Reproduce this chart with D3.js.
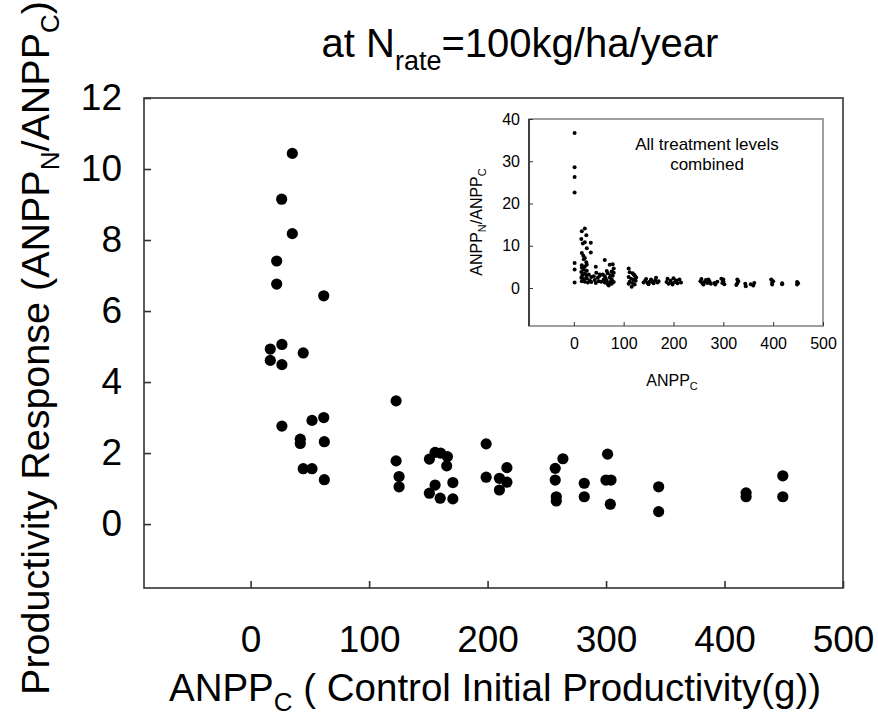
<!DOCTYPE html>
<html>
<head>
<meta charset="utf-8">
<script src="https://cdn.jsdelivr.net/npm/d3@7"></script>
<style>
  body { margin: 0; background: #fff; }
  text { font-family: "Liberation Sans", Arial, sans-serif; fill: #000; }
</style>
</head>
<body>
<svg id="chart"></svg>
<script>
// main panel: response at N rate = 100 kg/ha/year
var anppC = [35.2, 26.2, 35.2, 22.0, 22.0, 61.7, 16.6, 26.4, 16.6, 26.4, 44.4, 26.4, 51.8, 61.7, 41.9, 41.9, 62.2, 44.4, 51.8, 62.2,
             122.8, 122.8, 125.3, 125.3, 150.9, 155.7, 160.3, 166.1, 165.5, 155.7, 150.9, 160.0, 170.7, 170.7,
             198.8, 198.8, 210.0, 210.0, 216.3, 216.3, 257.1, 257.1, 263.6, 258.0, 258.0, 281.6, 281.6,
             301.3, 299.9, 304.2, 303.6, 344.4, 344.4, 418.2, 418.2, 449.2, 449.2];
var response = [10.44, 9.15, 8.18, 7.41, 6.76, 6.43, 4.93, 5.06, 4.61, 4.49, 4.82, 2.76, 2.92, 3.0, 2.39, 2.27, 2.32, 1.56, 1.56, 1.25,
                3.47, 1.78, 1.34, 1.05, 1.83, 2.02, 2.0, 1.9, 1.64, 1.1, 0.87, 0.73, 1.17, 0.71,
                2.26, 1.32, 1.29, 0.96, 1.59, 1.18, 1.57, 1.24, 1.84, 0.77, 0.65, 1.15, 0.77,
                1.97, 1.24, 1.24, 0.56, 1.05, 0.35, 0.88, 0.77, 1.36, 0.77];
var xTicks = [0, 100, 200, 300, 400, 500];
var yTicks = [0, 2, 4, 6, 8, 10, 12];

// inset: all treatment levels combined
var insetAnppC = [1.5, 1.5, 1.5, 1.5, 1.5, 1.5, 1.5,
                  22, 16, 25, 15, 22, 34, 18, 26, 34, 16, 19, 22, 20, 25, 16, 22, 26, 16, 20, 26, 15, 22, 17, 25, 15, 20, 26, 16, 22, 28, 32, 35, 35, 30,
                  44, 45, 40, 48, 42, 50, 44, 52, 55, 52,
                  62, 58, 62, 64, 66, 62, 68, 70, 72, 74, 76, 78, 72, 80, 76, 80, 70, 66, 74, 78, 68, 60, 80, 76,
                  110, 112, 118, 122, 110, 115, 120, 124, 112, 118, 122, 116, 110, 125, 120,
                  140, 143, 148, 152, 155, 158, 160, 163, 165, 168, 170, 150, 145,
                  186, 188, 190, 194, 196, 200, 203, 206, 208, 212, 215, 198,
                  254, 256, 258, 260, 262, 265, 268, 272, 275, 270,
                  282, 284, 288, 296, 298, 300, 302, 300,
                  328, 330, 328, 326, 344, 345, 355, 360, 362,
                  396, 398, 398, 400, 418, 418, 448, 448, 450];
var insetResponse = [36.7, 28.6, 26.3, 22.6, 5.9, 4.4, 1.3,
                     14.1, 13.4, 12.5, 11.6, 10.8, 10.7, 10.5, 9.4, 8.4, 8.3, 7.6, 7.1, 6.8, 6.1, 5.4, 5.1, 5.5, 4.8, 4.4, 4.1, 3.8, 3.5, 3.0, 2.9, 2.4, 2.1, 2.3, 1.6, 1.5, 1.3, 1.8, 2.6, 1.4, 3.2,
                     5.0, 3.6, 2.8, 2.4, 1.9, 1.6, 1.2, 2.9, 1.5, 3.2,
                     6.6, 3.2, 2.8, 2.2, 1.7, 1.3, 0.9, 1.1, 2.5, 3.0, 3.9, 5.6, 5.5, 4.6, 2.0, 1.4, 0.6, 4.0, 1.5, 2.9, 3.5, 2.0, 3.6, 1.0,
                     4.6, 3.7, 3.5, 3.0, 2.6, 2.2, 2.0, 1.7, 1.5, 1.2, 0.8, 0.3, 1.0, 2.5, 3.2,
                     1.3, 1.7, 1.2, 1.5, 2.0, 1.4, 1.1, 1.8, 2.4, 1.3, 1.6, 0.9, 2.1,
                     1.4, 2.2, 1.0, 1.7, 1.2, 2.3, 1.4, 1.8, 1.1, 2.0, 1.3, 0.8,
                     1.6, 2.1, 1.1, 0.8, 1.4, 1.9, 1.2, 1.6, 1.0, 2.0,
                     1.2, 0.8, 1.5, 2.2, 1.2, 1.6, 0.9, 2.0,
                     1.1, 1.6, 2.0, 0.7, 1.0, 0.4, 0.9, 0.6, 1.2,
                     2.0, 1.3, 0.8, 1.6, 0.9, 1.1, 1.4, 0.8, 1.1];
var insetYTicks = [0, 10, 20, 30, 40];

var width = 878, height = 717;
var svg = d3.select("#chart").attr("width", width).attr("height", height);

// ---------- main panel ----------
var x = d3.scaleLinear().domain([-90, 500]).range([144, 843]);
var y = d3.scaleLinear().domain([-1.8, 12]).range([588, 98]);

svg.append("rect")
    .attr("x", x.range()[0]).attr("y", y.range()[1])
    .attr("width", x.range()[1] - x.range()[0])
    .attr("height", y.range()[0] - y.range()[1])
    .attr("fill", "none").attr("stroke", "#333").attr("stroke-width", 1.6);

var xAxis = svg.append("g")
    .attr("transform", `translate(0, ${y.range()[0]})`)
    .call(d3.axisBottom(x).tickValues(xTicks).tickSizeInner(-7).tickSizeOuter(0).tickPadding(38));
var yAxis = svg.append("g")
    .attr("transform", `translate(${x.range()[0]}, 0)`)
    .call(d3.axisLeft(y).tickValues(yTicks).tickSizeInner(-7).tickSizeOuter(0).tickPadding(22));

[xAxis, yAxis].forEach(function (g) {
    g.select(".domain").remove();
    g.selectAll("line").attr("stroke", "#333").attr("stroke-width", 1.6);
    g.selectAll("text").attr("font-size", 37).attr("font-family", null);
});

svg.append("g").selectAll("circle")
    .data(d3.zip(anppC, response))
    .join("circle")
    .attr("cx", d => x(d[0]))
    .attr("cy", d => y(d[1]))
    .attr("r", 5.6)
    .attr("fill", "#000");

// title
var title = svg.append("text")
    .attr("x", 520).attr("y", 57)
    .attr("text-anchor", "middle")
    .attr("font-size", 40);
title.append("tspan").text("at N");
title.append("tspan").attr("font-size", 27).attr("dy", 13).text("rate");
title.append("tspan").attr("dy", -13).text("=100kg/ha/year");

// x title
var xTitle = svg.append("text")
    .attr("x", 495).attr("y", 701)
    .attr("text-anchor", "middle")
    .attr("font-size", 38.5);
xTitle.append("tspan").text("ANPP");
xTitle.append("tspan").attr("font-size", 26).attr("dy", 10).text("C");
xTitle.append("tspan").attr("dy", -10).text(" ( Control Initial Productivity(g))");

// y title
var yTitle = svg.append("text")
    .attr("transform", "translate(49, 348) rotate(-90)")
    .attr("text-anchor", "middle")
    .attr("font-size", 39.5);
yTitle.append("tspan").text("Productivity Response (ANPP");
yTitle.append("tspan").attr("font-size", 26).attr("dy", 10).text("N");
yTitle.append("tspan").attr("dy", -10).text("/ANPP");
yTitle.append("tspan").attr("font-size", 26).attr("dy", 10).text("C");
yTitle.append("tspan").attr("dy", -10).text(")");

// ---------- inset ----------
var ix = d3.scaleLinear().domain([-90, 500]).range([529, 823]);
var iy = d3.scaleLinear().domain([-9, 40]).range([326, 119]);

svg.append("rect")
    .attr("x", ix.range()[0]).attr("y", iy.range()[1])
    .attr("width", ix.range()[1] - ix.range()[0])
    .attr("height", iy.range()[0] - iy.range()[1])
    .attr("fill", "none").attr("stroke", "#808080").attr("stroke-width", 1.5);
svg.append("line")
    .attr("x1", ix.range()[0]).attr("x2", ix.range()[0])
    .attr("y1", iy.range()[0]).attr("y2", iy.range()[1])
    .attr("stroke", "#000").attr("stroke-width", 1.2);

var ixAxis = svg.append("g")
    .attr("transform", `translate(0, ${iy.range()[0]})`)
    .call(d3.axisBottom(ix).tickValues(xTicks).tickSizeInner(-4).tickSizeOuter(0).tickPadding(12));
var iyAxis = svg.append("g")
    .attr("transform", `translate(${ix.range()[0]}, 0)`)
    .call(d3.axisLeft(iy).tickValues(insetYTicks).tickSizeInner(-4).tickSizeOuter(0).tickPadding(9));

[ixAxis, iyAxis].forEach(function (g) {
    g.select(".domain").remove();
    g.selectAll("line").attr("stroke", "#333");
    g.selectAll("text").attr("font-size", 16).attr("font-family", null);
});

svg.append("g").selectAll("circle")
    .data(d3.zip(insetAnppC, insetResponse))
    .join("circle")
    .attr("cx", d => ix(d[0]))
    .attr("cy", d => iy(d[1]))
    .attr("r", 2)
    .attr("fill", "#000");

// inset note
svg.append("text")
    .attr("x", 707).attr("y", 150)
    .attr("text-anchor", "middle").attr("font-size", 17)
    .text("All treatment levels");
svg.append("text")
    .attr("x", 707).attr("y", 170)
    .attr("text-anchor", "middle").attr("font-size", 17)
    .text("combined");

// inset axis titles
var ixTitle = svg.append("text")
    .attr("x", 672).attr("y", 386)
    .attr("text-anchor", "middle")
    .attr("font-size", 16);
ixTitle.append("tspan").text("ANPP");
ixTitle.append("tspan").attr("font-size", 11).attr("dy", 4).text("C");

var iyTitle = svg.append("text")
    .attr("transform", "translate(482, 222) rotate(-90)")
    .attr("text-anchor", "middle")
    .attr("font-size", 16);
iyTitle.append("tspan").text("ANPP");
iyTitle.append("tspan").attr("font-size", 11).attr("dy", 4).text("N");
iyTitle.append("tspan").attr("dy", -4).text("/ANPP");
iyTitle.append("tspan").attr("font-size", 11).attr("dy", 4).text("C");
</script>
</body>
</html>
